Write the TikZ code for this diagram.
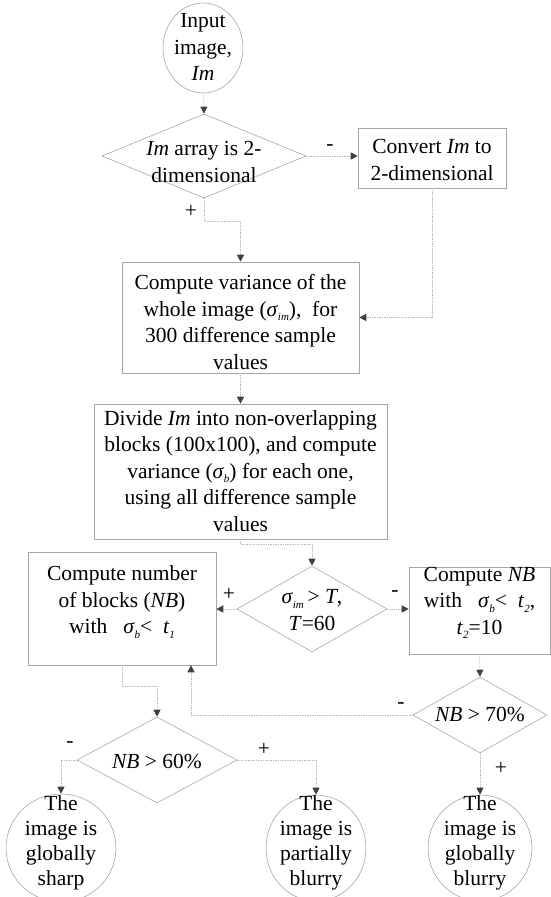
\documentclass[tikz,border=0pt]{standalone}
\usepackage{fontspec}
\setmainfont{Liberation Serif}
\usetikzlibrary{shapes.geometric,arrows.meta}

% small lowered subscript and sigma with subscript
\newcommand{\lowsub}[1]{\raisebox{-0.45ex}{\fontsize{11}{11}\selectfont\textit{#1}}}
\newcommand{\sgm}[1]{\textit{σ}\lowsub{#1}}

\begin{document}
\begin{tikzpicture}[x=1pt,y=-1pt,
  every node/.style={font=\fontsize{21.5}{26.5}\selectfont, inner sep=0pt},
  boxshape/.style={draw=gray!70, line width=0.6pt, rectangle},
  decision/.style={draw=gray!70, line width=0.6pt, diamond},
  terminal/.style={draw=gray!70, line width=0.6pt, ellipse},
  txt/.style={align=center},
  endtxt/.style={align=center, font=\fontsize{21.5}{25}\selectfont},
  sign/.style={font=\fontsize{21.5}{21.5}\selectfont},
  conn/.style={draw=gray!55, line width=0.7pt, densely dotted,
    -{Triangle[width=7pt,length=7pt,color=black!75]}}
]
\path[use as bounding box, clip] (0,0) rectangle (551,897);

% input
\node[terminal, minimum width=80pt, minimum height=90pt] (in) at (203,48) {};
\node[txt] (intxt) at (203,47) {Input\\image,\\\textit{Im}};

% first decision
\node[decision, minimum width=204pt, minimum height=84pt] (d1) at (204,156) {};
\node[txt] (d1txt) at (204,162) {\textit{Im} array is 2-\\dimensional};

% conversion
\node[boxshape, minimum width=148pt, minimum height=60pt] (conv) at (432,158) {};
\node[txt] (convtxt) at (432,160) {Convert \textit{Im} to\\2-dimensional};

% global variance
\node[boxshape, minimum width=237pt, minimum height=111pt] (var) at (240.5,317.5) {};
\node[txt] (vartxt) at (240.5,322) {Compute variance of the\\whole image (\sgm{im}),\ \ for\\300 difference sample\\values};

% block variance
\node[boxshape, minimum width=293pt, minimum height=135pt] (div) at (240.5,471.5) {};
\node[txt] (divtxt) at (240.5,471) {Divide \textit{Im} into non-overlapping\\blocks (100x100), and compute\\variance (\sgm{b}) for each one,\\using all difference sample\\values};

% threshold on the global variance
\node[decision, minimum width=150pt, minimum height=86pt] (d2) at (312,609) {};
\node[txt] (d2txt) at (312,610) {\sgm{im}\,> \textit{T},\\\textit{T}=60};

% block counts
\node[boxshape, minimum width=188pt, minimum height=113pt] (cnt) at (122,608.5) {};
\node[txt] (cnttxt) at (122,602) {Compute number\\of blocks (\textit{NB})\\with\ \ \ \sgm{b}<\ \ \textit{t}\lowsub{1}};

\node[boxshape, minimum width=141pt, minimum height=87pt] (nb) at (479.5,610.5) {};
\node[txt] (nbtxt) at (479.5,603) {Compute \textit{NB}\\with\ \ \ \sgm{b}<\ \ \textit{t}\lowsub{2},\\\textit{t}\lowsub{2}=10};

% decisions on NB
\node[decision, minimum width=134pt, minimum height=76pt] (d3) at (480,715) {};
\node[txt] (d3txt) at (480,714) {\textit{NB} > 70\%};

\node[decision, minimum width=160pt, minimum height=86pt] (d4) at (157,760) {};
\node[txt] (d4txt) at (157,761) {\textit{NB} > 60\%};

% outcomes
\node[terminal, minimum width=110pt, minimum height=108pt] (sh) at (61,848) {};
\node[endtxt] (shtxt) at (61,843) {The\\image is\\globally\\sharp};

\node[terminal, minimum width=100pt, minimum height=106pt] (pb) at (316,848) {};
\node[endtxt] (pbtxt) at (316,843) {The\\image is\\partially\\blurry};

\node[terminal, minimum width=104pt, minimum height=106pt] (gb) at (480,848) {};
\node[endtxt] (gbtxt) at (480,843) {The\\image is\\globally\\blurry};

% connectors
\draw[conn] (in) -- (d1.north);
\draw[conn] (d1.east) -- (d1.east -| conv.west);
\draw[conn] (conv.south) |- (var.east);
\draw[conn] (d1.south) -- ++(0,23) -| (var.north);
\draw[conn] (var.south) -- (div.north);
\draw[conn] (div.south) -- ++(0,5) -| (d2.north);
\draw[conn] (d2.west) -- (d2.west -| cnt.east);
\draw[conn] (d2.east) -- (d2.east -| nb.west);
\draw[conn] (nb.south) -- (d3.north);
\draw[conn] (cnt.south) -- ++(0,21) -| (d4.north);
\draw[conn] (d3.west) -| (cnt.south -| 191,0);
\draw[conn] (d3.south) -- (gb.north);
\draw[conn] (d4.west) -| (sh.north);
\draw[conn] (d4.east) -| (pb.north);

% branch signs
\node[sign] (s1) at (330,148) {-};
\node[sign] (s2) at (191,211) {+};
\node[sign] (s3) at (229,594) {+};
\node[sign] (s4) at (395,594) {-};
\node[sign] (s5) at (401,706) {-};
\node[sign] (s6) at (501,768) {+};
\node[sign] (s7) at (70,745) {-};
\node[sign] (s8) at (264,749) {+};
\end{tikzpicture}
\end{document}
